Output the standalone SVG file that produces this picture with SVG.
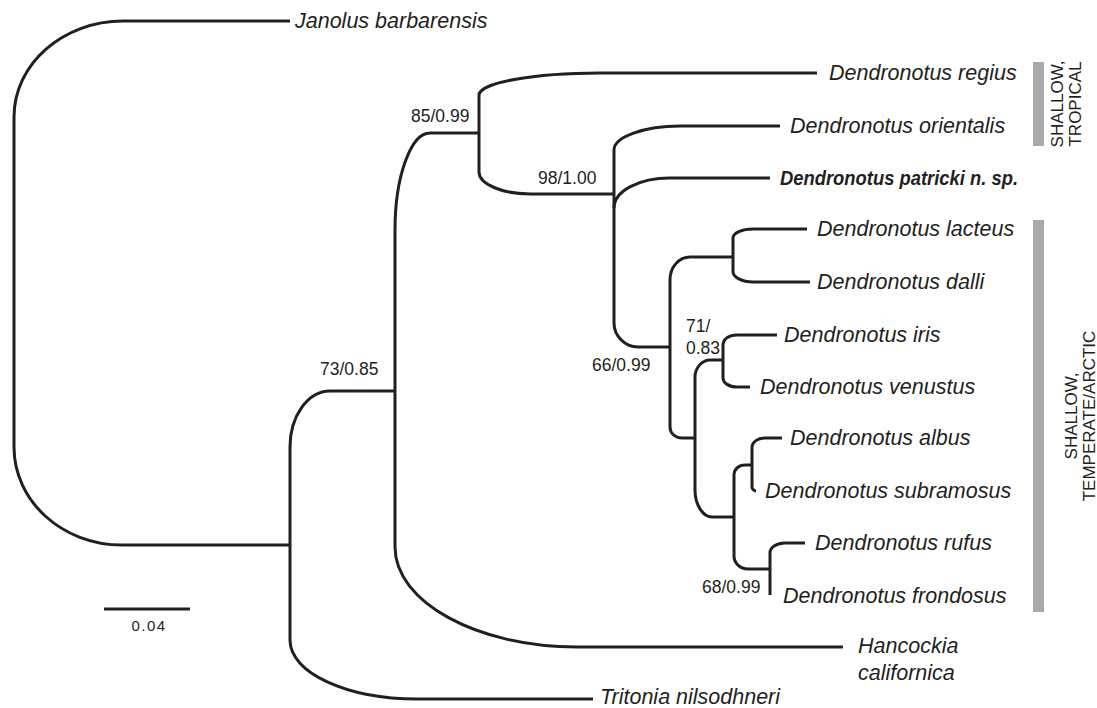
<svg xmlns="http://www.w3.org/2000/svg" width="1097" height="708" viewBox="0 0 1097 708">
<style>
.br{fill:none;stroke:#231f20;stroke-width:3;stroke-linecap:butt;stroke-linejoin:round}
.sp{font-family:"Liberation Sans",Arial,sans-serif;font-style:italic;font-size:21.5px;fill:#231f20}
.bold{font-weight:bold;font-size:21px}
.sup{font-family:"Liberation Sans",Arial,sans-serif;font-size:17.5px;fill:#231f20}
.hab{font-family:"Liberation Sans",Arial,sans-serif;font-size:17px;fill:#231f20}
.bar{fill:#a7a9ac}
</style>
<rect width="1097" height="708" fill="#fff"/>
<g id="connectors">
<path class="br" d="M 290,21 H 123 C 63,21 14,64 14,117 V 447 C 14,501 62,545 122,545 H 290"/>
<path class="br" d="M 395,391 H 330 C 308,391 290,416 290,447 V 640 C 290,673 347,699 417,699 H 593"/>
<path class="br" d="M 479,133 H 430 C 411,133 395,176 395,230 V 547 C 395,602 477,647 577,647 H 843"/>
<path class="br" d="M 817,73 H 600 C 533,73 479,83 479,95 V 172 C 479,184 502,194 530,194 H 614"/>
<path class="br" d="M 780,126 H 680 C 644,126 614,137 614,150 V 323 C 614,336 625,347 638,347 H 670"/>
<path class="br" d="M 614,208 C 614,191 639,178 670,178 H 770"/>
<path class="br" d="M 733,257 H 690 C 679,257 670,267 670,280 V 427 C 670,433 675,438 682,438 H 695"/>
<path class="br" d="M 807,229 H 753 C 742,229 733,233 733,238 V 272 C 733,277 742,282 753,282 H 810"/>
<path class="br" d="M 723,360 H 710 C 702,360 695,368 695,377 V 490 C 695,505 703,517 712,517 H 734"/>
<path class="br" d="M 777,335 H 737 C 729,335 723,339 723,345 V 378 C 723,383 729,387 737,387 H 750"/>
<path class="br" d="M 752,465 H 745 C 739,465 734,469 734,475 V 556 C 734,563 740,569 748,569 H 770"/>
<path class="br" d="M 782,438 H 765 C 758,438 752,442 752,447 V 487 C 752,489 754,491 756,491"/>
<path class="br" d="M 805,543 H 785 C 777,543 770,547 770,553 V 595"/>
</g>
<g id="tip-janolus"><text class="sp" x="295" y="28">Janolus barbarensis</text></g>
<g id="tip-regius"><text class="sp" x="829" y="80">Dendronotus regius</text></g>
<g id="tip-orientalis"><text class="sp" x="790" y="133">Dendronotus orientalis</text></g>
<g id="tip-patricki"><text class="sp bold" x="780" y="185" textLength="238" lengthAdjust="spacingAndGlyphs">Dendronotus patricki n. sp.</text></g>
<g id="tip-lacteus"><text class="sp" x="817" y="236">Dendronotus lacteus</text></g>
<g id="tip-dalli"><text class="sp" x="817" y="289">Dendronotus dalli</text></g>
<g id="tip-iris"><text class="sp" x="784" y="342">Dendronotus iris</text></g>
<g id="tip-venustus"><text class="sp" x="760" y="394">Dendronotus venustus</text></g>
<g id="tip-albus"><text class="sp" x="790" y="445">Dendronotus albus</text></g>
<g id="tip-subramosus"><text class="sp" x="765" y="498">Dendronotus subramosus</text></g>
<g id="tip-rufus"><text class="sp" x="815" y="550">Dendronotus rufus</text></g>
<g id="tip-frondosus"><text class="sp" x="783" y="603">Dendronotus frondosus</text></g>
<g id="tip-hancockia"><text class="sp" x="858" y="653">Hancockia<tspan x="858" dy="27">californica</tspan></text></g>
<g id="tip-tritonia"><text class="sp" x="600" y="704">Tritonia nilsodhneri</text></g>
<g id="support-73"><text class="sup" x="320" y="375">73/0.85</text></g>
<g id="support-85"><text class="sup" x="411" y="122">85/0.99</text></g>
<g id="support-98"><text class="sup" x="538" y="184">98/1.00</text></g>
<g id="support-66"><text class="sup" x="592" y="371">66/0.99</text></g>
<g id="support-71"><text class="sup" x="686" y="332">71/<tspan x="686" dy="22">0.83</tspan></text></g>
<g id="support-68"><text class="sup" x="702" y="593">68/0.99</text></g>
<g id="habitat-tropical">
<rect class="bar" x="1033" y="62" width="11" height="84"/>
<text class="hab" text-anchor="middle" transform="translate(1063,104) rotate(-90)">SHALLOW,<tspan x="0" dy="18">TROPICAL</tspan></text>
</g>
<g id="habitat-temperate">
<rect class="bar" x="1033" y="220" width="11" height="392"/>
<text class="hab" text-anchor="middle" transform="translate(1077,416) rotate(-90)">SHALLOW,<tspan x="0" dy="18">TEMPERATE/ARCTIC</tspan></text>
</g>
<g id="scale-bar">
<path class="br" d="M 104,609 H 190"/>
<text x="149" y="631" text-anchor="middle" style="font-family:'Liberation Sans',Arial,sans-serif;font-size:15px;letter-spacing:1.5px;fill:#231f20">0.04</text>
</g>
</svg>
